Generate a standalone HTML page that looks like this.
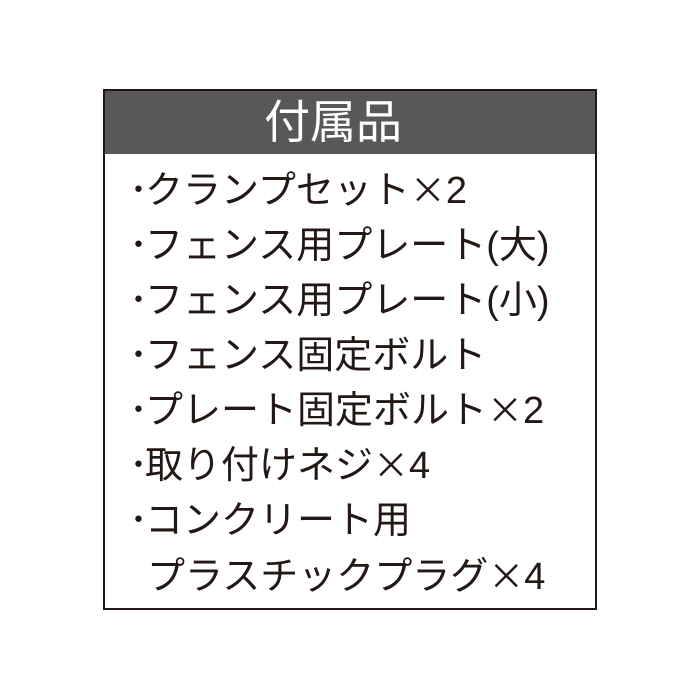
<!DOCTYPE html>
<html><head><meta charset="utf-8"><style>
body{margin:0;width:700px;height:700px;background:#fff;position:relative;font-family:"Liberation Sans","Noto Sans CJK JP",sans-serif;}
.box{position:absolute;left:103px;top:89px;width:490px;height:517px;border:2px solid #231815;}
.hd{position:absolute;left:0;top:0;width:456px;padding-right:34px;height:63px;background:#595757;color:#fff;font-size:46px;text-align:center;line-height:63px;}
.l{position:absolute;left:24px;font-size:38px;color:#231815;white-space:nowrap;line-height:40px;height:40px;}
.b{display:inline-block;width:16px;text-align:center;}
.x{font-family:"Noto Sans CJK JP",sans-serif;font-size:36px;line-height:0;}
</style></head><body>
<div class="box">
<div class="hd">付属品</div>
<div class="l" style="top:80px"><span class="b">･</span>クランプセット<span class="x">×</span>2</div>
<div class="l" style="top:135px"><span class="b">･</span>フェンス用プレート(大)</div>
<div class="l" style="top:190px"><span class="b">･</span>フェンス用プレート(小)</div>
<div class="l" style="top:245px"><span class="b">･</span>フェンス固定ボルト</div>
<div class="l" style="top:300px"><span class="b">･</span>プレート固定ボルト<span class="x">×</span>2</div>
<div class="l" style="top:355px"><span class="b">･</span>取り付けネジ<span class="x">×</span>4</div>
<div class="l" style="top:410px"><span class="b">･</span>コンクリート用</div>
<div class="l" style="top:466px;left:42px">プラスチックプラグ<span class="x">×</span>4</div>
</div>
</body></html>
